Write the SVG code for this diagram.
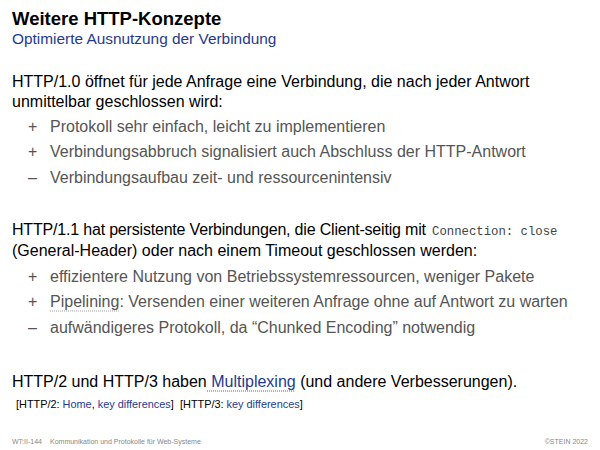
<svg xmlns="http://www.w3.org/2000/svg" width="600" height="450" viewBox="0 0 600 450">
<style>
text{font-family:"Liberation Sans",Arial,sans-serif}
.t{font-size:18.5px;font-weight:bold;fill:#000}
.st{font-size:15.4px;fill:#1f3a8f}
.b{font-size:16px;fill:#000}
.g{font-size:16px;fill:#555}
.m{font-family:"Liberation Mono","Courier New",monospace;font-size:12.3px;fill:#444}
.lk{fill:#1f3a8f}
.r{font-size:10.9px;fill:#000}
.f{font-size:7px;fill:#888}
.du{stroke-dasharray:1 1;stroke-width:0.8;fill:none}
</style>
<rect width="600" height="450" fill="#fff"/>
<g id="title">
<text class="t" x="12" y="25">Weitere HTTP-Konzepte</text>
<text class="st" x="12" y="44">Optimierte Ausnutzung der Verbindung</text>
</g>
<g id="http10">
<text class="b" x="12" y="87">HTTP/1.0 öffnet für jede Anfrage eine Verbindung, die nach jeder Antwort</text>
<text class="b" x="12" y="107">unmittelbar geschlossen wird:</text>
<text class="g" x="28" y="132">+</text><text class="g" x="50" y="132">Protokoll sehr einfach, leicht zu implementieren</text>
<text class="g" x="28" y="157">+</text><text class="g" x="50" y="157">Verbindungsabbruch signalisiert auch Abschluss der HTTP-Antwort</text>
<text class="g" x="28" y="183">–</text><text class="g" x="50" y="183">Verbindungsaufbau zeit- und ressourcenintensiv</text>
</g>
<g id="http11">
<text class="b" x="12" y="235" textLength="414" lengthAdjust="spacing">HTTP/1.1 hat persistente Verbindungen, die Client-seitig mit</text>
<text class="m" x="432" y="235">Connection: close</text>
<text class="b" x="12" y="256">(General-Header) oder nach einem Timeout geschlossen werden:</text>
<text class="g" x="28" y="282">+</text><text class="g" x="50" y="282">effizientere Nutzung von Betriebssystemressourcen, weniger Pakete</text>
<text class="g" x="28" y="307">+</text><text class="g" x="50" y="307">Pipelining: Versenden einer weiteren Anfrage ohne auf Antwort zu warten</text>
<line class="du" x1="50" y1="311" x2="119" y2="311" stroke="#888"/>
<text class="g" x="28" y="333">–</text><text class="g" x="50" y="333">aufwändigeres Protokoll, da “Chunked Encoding” notwendig</text>
</g>
<g id="http2">
<text class="b" x="12" y="387">HTTP/2 und HTTP/3 haben <tspan class="lk">Multiplexing</tspan> (und andere Verbesserungen).</text>
<line class="du" x1="207" y1="391" x2="294" y2="391" stroke="#1f3a8f"/>
<text class="r" x="16" y="408">[HTTP/2: <tspan class="lk">Home</tspan>, <tspan class="lk">key differences</tspan>]</text>
<text class="r" x="180" y="408">[HTTP/3: <tspan class="lk">key differences</tspan>]</text>
</g>
<g id="footer">
<text class="f" x="12" y="444">WT:II-144</text>
<text class="f" x="50" y="444">Kommunikation und Protokolle für Web-Systeme</text>
<text class="f" x="588" y="444" text-anchor="end">©STEIN 2022</text>
</g>
</svg>
